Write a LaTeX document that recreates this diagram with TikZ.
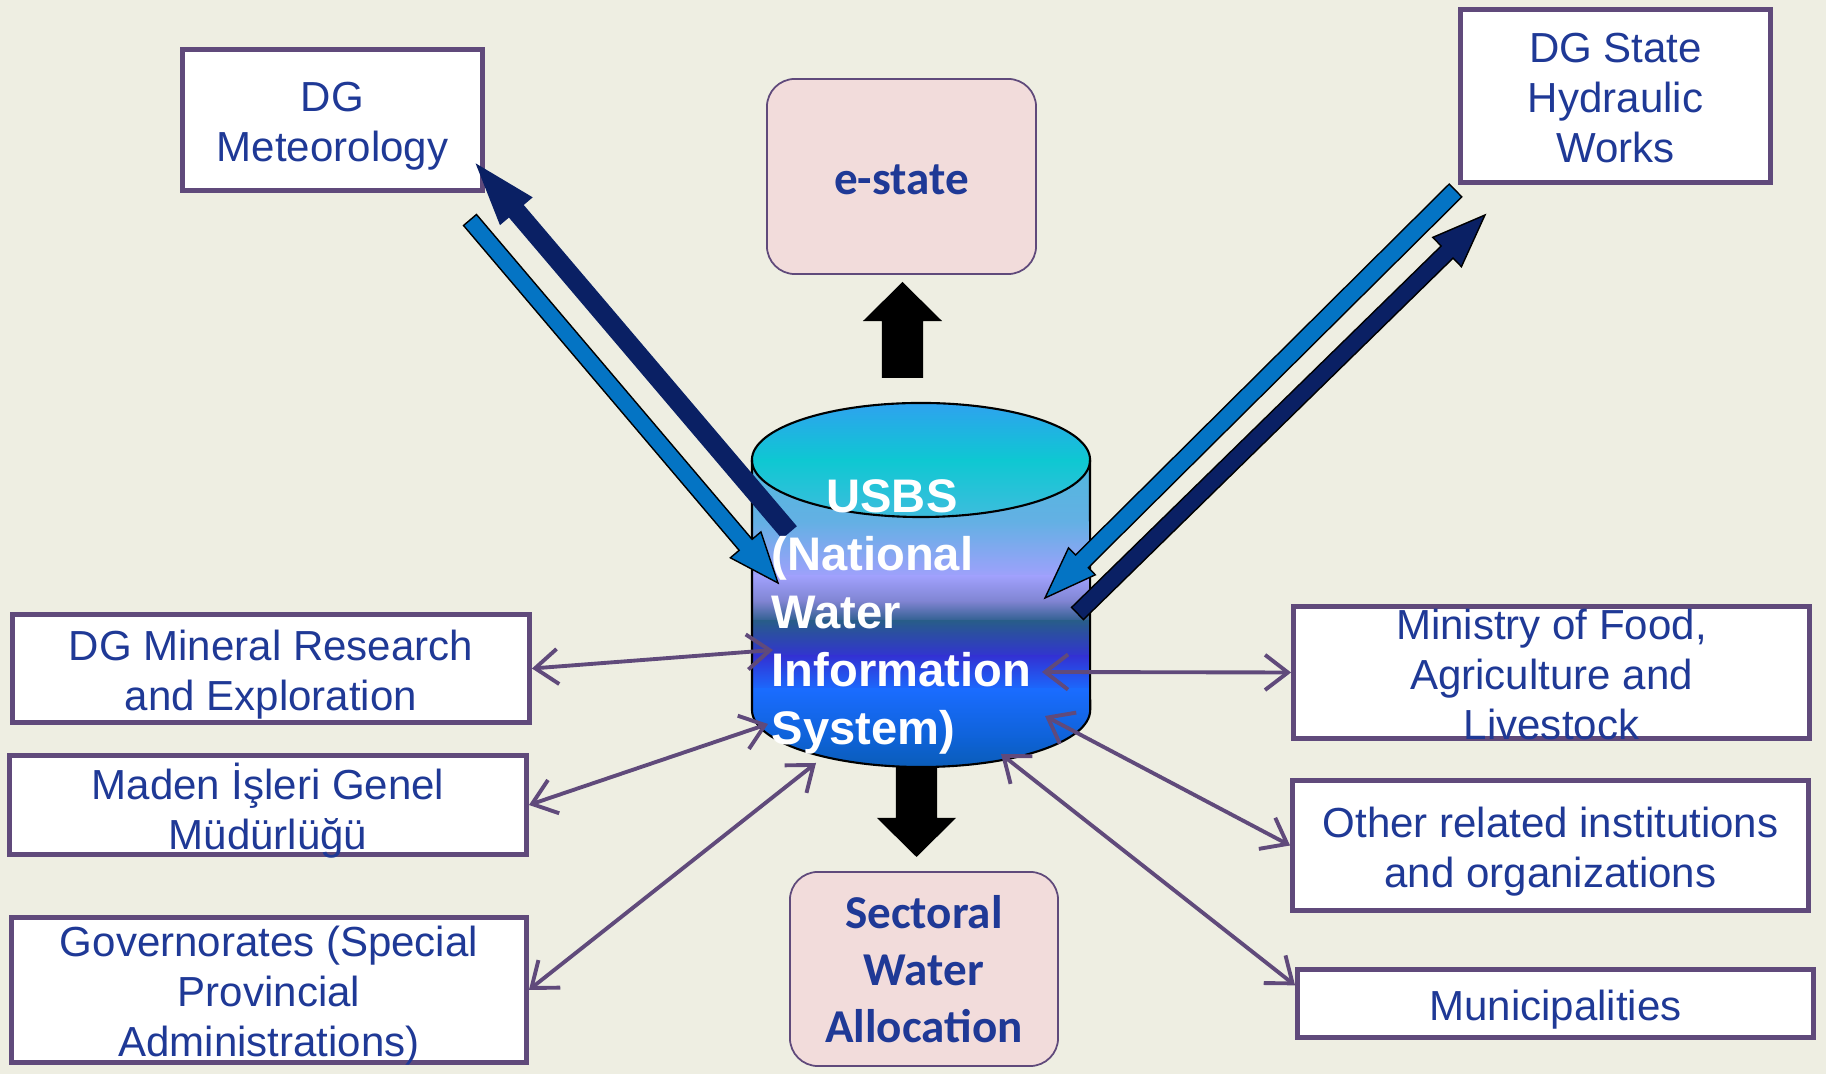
\documentclass[tikz,border=0pt]{standalone}
\usepackage{fontspec}
\setmainfont{Liberation Sans}
\newfontfamily\calibri{Carlito}
\usetikzlibrary{calc,arrows.meta}

\definecolor{paper}{RGB}{238,238,226}
\definecolor{frame}{RGB}{96,74,123}
\definecolor{ink}{RGB}{31,57,150}
\definecolor{pinkfill}{RGB}{242,220,219}
\definecolor{lightarr}{RGB}{4,116,196}
\definecolor{navyarr}{RGB}{10,32,100}
% cylinder colours, top to bottom
\definecolor{capA}{RGB}{48,160,240}
\definecolor{capB}{RGB}{14,200,210}
\definecolor{capC}{RGB}{64,188,222}
\definecolor{bodyA}{RGB}{80,184,222}
\definecolor{bodyB}{RGB}{100,176,228}
\definecolor{bodyC}{RGB}{160,160,252}
\definecolor{bodyD}{RGB}{124,130,206}
\definecolor{bodyE}{RGB}{40,92,138}
\definecolor{bodyF}{RGB}{50,50,212}
\definecolor{bodyG}{RGB}{26,108,255}
\definecolor{bodyH}{RGB}{14,98,214}
\definecolor{bodyI}{RGB}{10,92,180}

\tikzset{
  orgbox/.style={draw=frame, line width=1.3pt, fill=white, inner sep=0pt},
  orgtext/.style={text=ink, align=center, inner sep=0pt, yshift=-0.06cm, font=\fontsize{11.95}{14.2}\selectfont},
  outbox/.style={draw=frame, line width=0.5pt, fill=pinkfill, rounded corners=0.28cm, inner sep=0pt},
  outtext/.style={text=ink, align=center, inner sep=0pt, font=\calibri\bfseries\fontsize{13.4}{16.2}\selectfont},
  cyltext/.style={text=white, inner sep=0pt, font=\bfseries\fontsize{13.4}{16.5}\selectfont},
  link/.style={draw=frame, line width=1.1pt, {Straight Barb[length=6.5pt,width=10pt]}-{Straight Barb[length=6.5pt,width=10pt]}},
  lightblock/.style={fill=lightarr, draw=black, line width=0.4pt},
  navyblock/.style={fill=navyarr, draw=navyarr, line width=0.4pt},
  navyedge/.style={fill=navyarr, draw=black, line width=0.4pt},
  blackblock/.style={fill=black},
}

% style, from, to, half shaft, half head, head length
\newcommand\blockarrow[6]{%
  \coordinate (headbase) at ($(#3)!#6!(#2)$);
  \path[#1] ($(#2)!#4!90:(#3)$) -- ($(headbase)!#4!90:(#3)$) -- ($(headbase)!#5!90:(#3)$) -- (#3)
    -- ($(headbase)!#5!-90:(#3)$) -- ($(headbase)!#4!-90:(#3)$) -- ($(#2)!#4!-90:(#3)$) -- cycle;}

\begin{document}
\begin{tikzpicture}[x=0.01cm,y=0.01cm]
\useasboundingbox (0,0) rectangle (1826,-1074);
\fill[paper] (0,0) rectangle (1826,-1074);

% boxes
\node[orgbox, minimum width=3cm, minimum height=1.41cm] (met) at (332.5,-120) {};
\node[orgtext] (mettext) at (met) {DG\\Meteorology};
\node[orgbox, minimum width=3.1cm, minimum height=1.73cm] (dsi) at (1615.5,-96) {};
\node[orgtext] (dsitext) at ($(dsi)+(0,4)$) {DG State\\Hydraulic\\Works};
\node[outbox, minimum width=2.69cm, minimum height=1.95cm] (estate) at (901.5,-176.5) {};
\node[outtext] (estatetext) at (901.5,-180) {e-state};
\node[outbox, minimum width=2.68cm, minimum height=1.94cm] (sectoral) at (924,-969) {};
\node[outtext] (sectoraltext) at (sectoral) {Sectoral\\Water\\Allocation};
\node[orgbox, minimum width=5.17cm, minimum height=1.08cm] (mineral) at (271,-668.5) {};
\node[orgtext] (mineraltext) at (mineral) {DG Mineral Research\\and Exploration};
\node[orgbox, minimum width=5.17cm, minimum height=0.99cm] (maden) at (268,-805) {};
\node[orgtext] (madentext) at (maden) {Maden İşleri Genel\\Müdürlüğü};
\node[orgbox, minimum width=5.15cm, minimum height=1.45cm] (governor) at (269,-990) {};
\node[orgtext] (governortext) at (governor) {Governorates (Special\\Provincial\\Administrations)};
\node[orgbox, minimum width=5.16cm, minimum height=1.32cm] (ministry) at (1551.5,-672.5) {};
\node[orgtext] (ministrytext) at ($(ministry)+(0,4)$) {Ministry of Food,\\Agriculture and\\Livestock};
\node[orgbox, minimum width=5.16cm, minimum height=1.30cm] (other) at (1550.5,-845.5) {};
\node[orgtext] (othertext) at (other) {Other related institutions\\and organizations};
\node[orgbox, minimum width=5.16cm, minimum height=0.68cm] (municip) at (1555.5,-1003.5) {};
\node[orgtext] (municiptext) at (municip) {Municipalities};

% ends of the connectors at the cylinder
\coordinate (cyltop) at (902.5,-378);
\coordinate (estatetip) at (902.5,-282);
\coordinate (cylbottom) at (916.5,-745);
\coordinate (sectoraltip) at (916.5,-857);
\coordinate (metin) at (470,-220);
\coordinate (cylmetin) at (778,-583);
\coordinate (cylmetout) at (789,-532);
\coordinate (metout) at (477,-165);
\coordinate (dsiout) at (1455.5,-190.5);
\coordinate (cyldsiin) at (1045,-598);
\coordinate (cyldsiout) at (1077.5,-613.5);
\coordinate (dsiin) at (1485,-215);
\coordinate (cyl1) at (773,-650);
\coordinate (cyl2) at (768,-724);
\coordinate (cyl3) at (816,-763);
\coordinate (cyl4) at (1042,-672);
\coordinate (cyl5) at (1045,-716);
\coordinate (cyl6) at (1001,-754);

\blockarrow{blackblock}{cyltop}{estatetip}{0.205cm}{0.395cm}{0.39cm}
\blockarrow{blackblock}{cylbottom}{sectoraltip}{0.205cm}{0.395cm}{0.39cm}

% cylinder
\begin{scope}
  \clip (752,-460) -- (752,-710) arc[start angle=180, end angle=360, x radius=1.69cm, y radius=0.57cm] -- (1090,-460) -- cycle;
  \foreach \ya/\yb/\ca/\cb in {460/523/bodyA/bodyB, 523/577/bodyB/bodyC, 577/603/bodyC/bodyD, 603/622/bodyD/bodyE,
      622/657/bodyE/bodyF, 657/690/bodyF/bodyG, 690/740/bodyG/bodyH, 740/770/bodyH/bodyI}
    \shade[top color=\ca, bottom color=\cb] (745,-\ya+1) rectangle (1095,-\yb-1);
\end{scope}
\begin{scope}
  \clip (921,-460) ellipse [x radius=1.69cm, y radius=0.57cm];
  \shade[top color=capA, bottom color=capB] (745,-400) rectangle (1095,-461);
  \shade[top color=capB, bottom color=capC] (745,-460) rectangle (1095,-520);
\end{scope}
\draw[line width=0.6pt] (752,-460) -- (752,-710) arc[start angle=180, end angle=360, x radius=1.69cm, y radius=0.57cm] -- (1090,-460);
\draw[line width=0.6pt] (921,-460) ellipse [x radius=1.69cm, y radius=0.57cm];

% data flows
\blockarrow{lightblock}{metin}{cylmetin}{0.085cm}{0.2cm}{0.5cm}
\blockarrow{navyblock}{cylmetout}{metout}{0.09cm}{0.205cm}{0.6cm}
\blockarrow{lightblock}{dsiout}{cyldsiin}{0.09cm}{0.19cm}{0.52cm}
\blockarrow{navyedge}{cyldsiout}{dsiin}{0.085cm}{0.205cm}{0.53cm}

\draw[link] (mineral.east) -- (cyl1);
\draw[link] (maden.east) -- (cyl2);
\draw[link] (governor.east) -- (cyl3);
\draw[link] (ministry.west) -- (cyl4);
\draw[link] (other.west) -- (cyl5);
\draw[link] ($(municip.north west)!0.25!(municip.south west)$) -- (cyl6);

\node[cyltext] (usbs) at (892,-496) {USBS};
\node[cyltext, align=left, anchor=west] (usbsname) at (771,-645) {(National\\Water\\Information\\System)};
\end{tikzpicture}
\end{document}
